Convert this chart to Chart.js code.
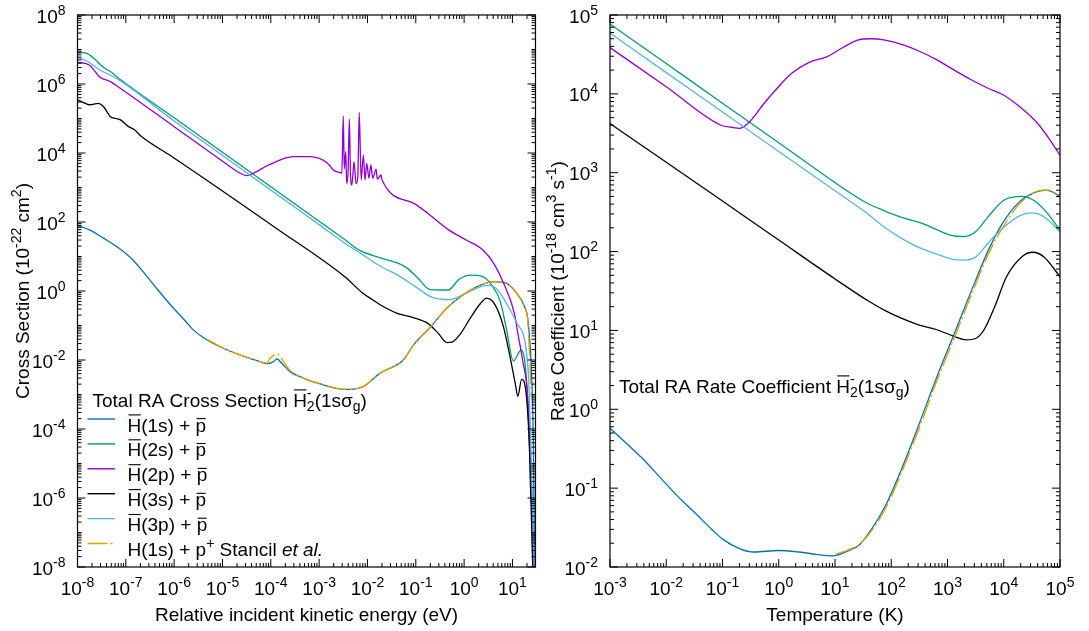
<!DOCTYPE html>
<html>
<head>
<meta charset="utf-8">
<script src="https://cdn.jsdelivr.net/npm/chart.js@4.4.1/dist/chart.umd.min.js"></script>
<style>
html, body { margin: 0; padding: 0; background: #fff; }
.panel { position: absolute; top: 0; height: 631px; }
#p1 { left: 0; width: 545px; }
#p2 { left: 545px; width: 544px; }
</style>
</head>
<body>
<div class="panel" id="p1"><canvas id="cross"></canvas></div>
<div class="panel" id="p2"><canvas id="rate"></canvas></div>
<script>
// ---- left panel: cross sections (10^-22 cm^2) vs energy (eV)
const cs1sE = [1e-8, 1.78e-8, 3.47e-8, 6.6e-8, 1.29e-7, 2.45e-7, 4.8e-7, 9.1e-7, 1.78e-6, 2.45e-6, 4.8e-6, 1.26e-5, 3.7e-5, 5.6e-5, 8.3e-5, 1.1e-4, 1.35e-4, 1.7e-4, 2.5e-4, 4.7e-4, 1.23e-3, 2.3e-3, 3.5e-3, 8.1e-3, 1.8e-2, 5.5e-2, 9.1e-2, 0.2, 0.44, 0.98, 2.1, 4.1, 7.6, 12.3, 17.8, 20.9, 24.5, 26.9, 28.8]
const cs1s  = [79, 59, 34, 19, 8.9, 3.2, 1.0, 0.35, 0.126, 0.076, 0.038, 0.0195, 0.0112, 0.0093, 0.0079, 0.0087, 0.0107, 0.0079, 0.0046, 0.003, 0.0019, 0.0015, 0.0014, 0.0017, 0.0041, 0.01, 0.028, 0.089, 0.32, 0.79, 1.45, 1.86, 1.66, 0.85, 0.35, 0.145, 0.0065, 7.6e-5, 1e-8]

const cs2sE = [1e-8, 1.51e-8, 2.29e-8, 3.47e-8, 4.8e-8, 7.2e-8, 1e-6, 1e-5, 1e-4, 1e-3, 3.5e-3, 6.6e-3, 1.78e-2, 4.4e-2, 6.6e-2, 0.107, 0.2, 0.47, 0.79, 1.35, 2.29, 3.72, 5.6, 7.4, 10.5, 15.1, 20, 27.5]
const cs2s  = [8.3e6, 7.8e6, 5.2e6, 3.0e6, 2.3e6, 1.45e6, 1.05e5, 1.05e4, 1050, 105, 30, 15.5, 9.3, 6.3, 4.6, 2.5, 1.1, 1.07, 2.2, 2.9, 2.7, 1.48, 0.5, 0.089, 0.0093, 0.0195, 0.0016, 1e-8]

const cs2pE = [1e-8, 1.78e-8, 2.88e-8, 4.8e-8, 7.8e-8, 1e-6, 1e-5, 2.45e-5, 3.16e-5, 4.4e-5, 9.1e-5, 2.9e-4, 6.6e-4, 1.51e-3, 1.97e-3, 2.71e-3,
  2.95e-3, 3.16e-3, 3.31e-3, 3.55e-3, 3.72e-3, 3.98e-3, 4.22e-3, 4.47e-3, 4.73e-3, 5.01e-3, 5.25e-3, 5.81e-3, 6.31e-3, 6.76e-3, 7.41e-3, 8.22e-3, 8.91e-3, 9.66e-3, 1.07e-2, 1.17e-2, 1.29e-2, 1.51e-2, 1.6e-2, 1.91e-2, 2.0e-2,
  9.1e-2, 0.48, 1.1, 2.45, 4.1, 6.6, 11.0, 12.9, 16.2, 20.9, 28.2]
const cs2p  = [4.3e6, 3.5e6, 1.6e6, 1.17e6, 7.4e5, 5.8e4, 5.8e3, 2.5e3, 2.2e3, 2.6e3, 4.5e3, 7.8e3, 7.8e3, 5.0e3, 3.2e3, 2.7e3,
  2.6e3, 1.17e5, 3.5e3, 1.1e4, 1.3e3, 3.2e3, 9.5e4, 2.0e3, 1.17e3, 2.5e3, 5.6e3, 1.3e3, 2.0e3, 1.48e5, 1.66e3, 8.7e3, 1.66e3, 5.0e3, 1.86e3, 4.5e3, 1.86e3, 3.4e3, 1.74e3, 2.3e3, 1.66e3,
  347, 59, 30, 15.5, 6.3, 1.66, 0.22, 0.06, 0.01, 6.9e-4, 1e-8]

const cs3sE = [1e-8, 1.29e-8, 1.78e-8, 2.69e-8, 3.47e-8, 4.8e-8, 6.2e-8, 7.8e-8, 1.1e-7, 1.51e-7, 2.14e-7, 9.1e-7, 1.29e-4, 3.5e-3, 7.8e-3, 1.29e-2, 1.82e-2, 4.0e-2, 8.9e-2, 0.178, 0.29, 0.44, 0.56, 0.83, 1.32, 2.14, 2.95, 4.4, 6.5, 8.9, 11.5, 12.9, 15.5, 19.1, 22.4, 26.3]
const cs3s  = [3.5e5, 2.95e5, 2.5e5, 2.75e5, 2.2e5, 1.12e5, 1.0e5, 9.1e4, 6.0e4, 4.7e4, 2.95e4, 7.8e3, 66, 2.5, 0.89, 0.55, 0.4, 0.23, 0.17, 0.115, 0.06, 0.032, 0.033, 0.056, 0.158, 0.42, 0.62, 0.39, 0.093, 0.0126, 0.002, 0.00089, 0.00275, 0.00112, 3.2e-5, 1e-8]

const cs3pE = [1e-8, 1.62e-8, 2.88e-8, 7.2e-8, 1e-6, 1e-5, 1e-4, 1e-3, 3.5e-3, 7.8e-3, 1.78e-2, 4.4e-2, 0.1, 0.22, 0.5, 0.95, 2.14, 3.16, 4.8, 7.8, 12.6, 20.9, 28.2]
const cs3p  = [5.9e6, 4.5e6, 2.6e6, 1.3e6, 8.5e4, 8.5e3, 840, 84, 23.5, 11.5, 5.4, 2.8, 1.32, 0.65, 0.56, 0.78, 1.32, 1.45, 1.12, 0.4, 0.112, 0.0063, 1e-8]

const csStancilE = [4.9e-6, 1.26e-5, 3.7e-5, 5.6e-5, 8.3e-5, 9.5e-5, 1.35e-4, 1.95e-4, 2.5e-4, 4.7e-4, 1.23e-3, 2.3e-3, 3.5e-3, 8.1e-3, 1.8e-2, 5.5e-2, 9.1e-2, 0.2, 0.44, 0.98, 2.1, 4.1, 7.6, 12.3, 17.8, 20.9, 24.5]
const csStancil  = [0.039, 0.0195, 0.0112, 0.0093, 0.0081, 0.011, 0.0148, 0.0079, 0.005, 0.003, 0.0019, 0.0015, 0.0014, 0.0017, 0.0041, 0.01, 0.028, 0.089, 0.32, 0.79, 1.45, 1.86, 1.66, 0.85, 0.35, 0.12, 0.0009]

// ---- right panel: rate coefficients (10^-18 cm^3 s^-1) vs temperature (K)
const rc1sT = [1e-3, 1.95e-3, 3.98e-3, 7.9e-3, 1.62e-2, 3.3e-2, 6.6e-2, 0.102, 0.204, 0.363, 0.98, 2.29, 4.57, 8.9, 19.1, 26.9, 43.7, 78, 158, 316, 646, 1320, 3020, 5370, 9550, 1.9e4, 3.9e4, 5.9e4, 1e5]
const rc1s  = [0.574, 0.37, 0.229, 0.135, 0.078, 0.048, 0.0295, 0.0224, 0.017, 0.0155, 0.0162, 0.0155, 0.0145, 0.0138, 0.0166, 0.019, 0.0295, 0.059, 0.186, 0.66, 2.57, 9.1, 39.8, 105, 229, 427, 575, 603, 501]

const rc2sT = [1e-3, 1e-2, 0.1, 1, 19, 38, 63, 100, 158, 316, 646, 1120, 2000, 3160, 5250, 1e4, 2.1e4, 3.55e4, 5.9e4, 1e5]
const rc2s  = [7.7e4, 2.42e4, 7.6e3, 2.4e3, 550, 407, 347, 302, 269, 234, 190, 162, 155, 178, 275, 447, 500, 437, 309, 186]

const rc2pT = [1e-3, 1e-2, 0.094, 0.145, 0.204, 0.316, 0.55, 1.02, 1.7, 3.47, 7.1, 14.1, 25.1, 43.7, 78, 158, 316, 646, 1320, 2630, 5370, 9550, 1.9e4, 3.9e4, 6.3e4, 1e5]
const rc2p  = [3.86e4, 1.23e4, 4.0e3, 3.77e3, 3.66e3, 4.57e3, 7.6e3, 1.26e4, 1.82e4, 2.51e4, 2.95e4, 3.9e4, 4.8e4, 5.0e4, 4.8e4, 4.2e4, 3.47e4, 2.7e4, 2.0e4, 1.51e4, 1.17e4, 9.8e3, 6.9e3, 4.3e3, 2.75e3, 1.66e3]

const rc3sT = [1e-3, 1e-2, 0.1, 1, 10, 40, 78, 158, 316, 646, 1260, 2140, 3160, 4470, 7080, 1.12e4, 2.24e4, 3.3e4, 5.25e4, 1e5]
const rc3s  = [4.2e3, 1.36e3, 437, 140, 45, 23.4, 17.8, 14.1, 11.7, 10.2, 8.5, 7.6, 7.9, 10.2, 20.9, 47.9, 89, 98, 85, 47.9]

const rc3pT = [1e-3, 1e-2, 0.1, 1, 10, 38, 78, 158, 316, 646, 1320, 2000, 3160, 5600, 1e4, 2e4, 3.16e4, 5.25e4, 1e5]
const rc3p  = [5.9e4, 1.86e4, 5.9e3, 1.86e3, 590, 302, 200, 145, 112, 93, 79, 78, 85, 135, 204, 288, 309, 275, 178]

const rcStancilT = [10.2, 19.1, 28.8, 78, 158, 316, 646, 1320, 3020, 5370, 1e4, 2.19e4, 5.1e4, 1e5]
const rcStancil  = [0.0145, 0.017, 0.02, 0.054, 0.168, 0.58, 2.3, 8.0, 35.5, 94, 212, 445, 603, 525]

const seriesColors = ['#0072b2', '#009e73', '#9400d3', '#000000', '#56b4e9', '#e69f00']

const FONT = '"Liberation Sans", Arial, Helvetica, sans-serif'
const HBAR = {t: 'H', o: 'cap'}
const PBAR = {t: 'p', o: 'x'}
const legendRows = [
  [HBAR, {t: '(1s) + '}, PBAR],
  [HBAR, {t: '(2s) + '}, PBAR],
  [HBAR, {t: '(2p) + '}, PBAR],
  [HBAR, {t: '(3s) + '}, PBAR],
  [HBAR, {t: '(3p) + '}, PBAR],
  [{t: 'H(1s) + p'}, {t: '+', up: 1}, {t: ' Stancil '}, {t: 'et al.', i: 1}]
]

function rich(ctx, parts, x, y, align, size) {
  size = size || 19
  const small = Math.round(size * 0.74)
  let w = 0
  const items = parts.map(p => {
    const it = Object.assign({}, p)
    if (p.stack) {
      ctx.font = small + 'px ' + FONT
      it.w = Math.max(ctx.measureText(p.stack[0]).width, ctx.measureText(p.stack[1]).width)
    } else {
      it.f = (p.i ? 'italic ' : '') + ((p.up || p.dn) ? small : size) + 'px ' + FONT
      ctx.font = it.f
      it.w = ctx.measureText(p.t).width
    }
    w += it.w
    return it
  })
  let cx = align === 'center' ? x - w / 2 : (align === 'right' ? x - w : x)
  ctx.textAlign = 'left'
  ctx.textBaseline = 'alphabetic'
  for (const it of items) {
    if (it.stack) {
      ctx.font = small + 'px ' + FONT
      ctx.fillText(it.stack[0], cx, y - size * 0.45)
      ctx.fillText(it.stack[1], cx, y + size * 0.25)
    } else {
      ctx.font = it.f
      const dy = it.up ? -size * 0.42 : (it.dn ? size * 0.25 : 0)
      ctx.fillText(it.t, cx, y + dy)
      if (it.o) {
        const oy = y - (it.o === 'cap' ? size * 0.716 + 3 : size * 0.52 + 3)
        ctx.beginPath()
        ctx.lineWidth = 1.1
        ctx.moveTo(cx + 1, oy)
        ctx.lineTo(cx + it.w - 0.5, oy)
        ctx.stroke()
      }
    }
    cx += it.w
  }
}

function decades(min, max) {
  const out = []
  for (let e = Math.floor(Math.log10(min) + 1e-9); e <= Math.ceil(Math.log10(max) - 1e-9); e++) out.push(e)
  return out
}

const framePlugin = {
  id: 'frame',
  afterDraw(chart, args, opts) {
    const {ctx, chartArea: a, scales: {x, y}} = chart
    ctx.save()
    ctx.strokeStyle = '#000'
    ctx.fillStyle = '#000'
    ctx.lineWidth = 1.2
    ctx.strokeRect(a.left, a.top, a.right - a.left, a.bottom - a.top)

    ctx.lineWidth = 1
    // x ticks, mirrored on top
    for (const e of decades(x.min, x.max)) {
      for (let m = 1; m <= 9; m++) {
        const v = m * Math.pow(10, e)
        if (v < x.min * 0.999 || v > x.max * 1.001) continue
        const px = x.getPixelForValue(v)
        const len = m === 1 ? 8 : 4
        ctx.beginPath()
        ctx.moveTo(px, a.bottom); ctx.lineTo(px, a.bottom - len)
        ctx.moveTo(px, a.top); ctx.lineTo(px, a.top + len)
        ctx.stroke()
        if (m === 1) rich(ctx, [{t: '10'}, {t: String(e), up: 1}], px, a.bottom + 28, 'center')
      }
    }
    // y ticks, mirrored on the right
    for (const e of decades(y.min, y.max)) {
      for (let m = 1; m <= 9; m++) {
        const v = m * Math.pow(10, e)
        if (v < y.min * 0.999 || v > y.max * 1.001) continue
        const py = y.getPixelForValue(v)
        const major = m === 1 && e % opts.yStep === 0
        const len = major ? 8 : 4
        ctx.beginPath()
        ctx.moveTo(a.left, py); ctx.lineTo(a.left + len, py)
        ctx.moveTo(a.right, py); ctx.lineTo(a.right - len, py)
        ctx.stroke()
        if (major) rich(ctx, [{t: '10'}, {t: String(e), up: 1}], a.left - 12, py + 7.5, 'right')
      }
    }
    // axis titles
    rich(ctx, [{t: opts.xTitle}], (a.left + a.right) / 2, a.bottom + 54, 'center')
    ctx.save()
    ctx.translate(opts.yTitleX, (a.top + a.bottom) / 2)
    ctx.rotate(-Math.PI / 2)
    rich(ctx, opts.yTitle, 0, 0, 'center')
    ctx.restore()
    // key
    rich(ctx, opts.keyTitle, a.left + opts.keyX, opts.keyY, 'left')
    if (opts.keyRows) {
      chart.data.datasets.forEach((ds, i) => {
        const ly = opts.keyY + 12.5 + i * 24.9
        ctx.save()
        ctx.strokeStyle = ds.borderColor
        ctx.lineWidth = 1.4
        ctx.setLineDash(ds.borderDash || [])
        ctx.beginPath()
        ctx.moveTo(a.left + 10, ly); ctx.lineTo(a.left + 37.5, ly)
        ctx.stroke()
        ctx.restore()
        rich(ctx, legendRows[i], a.left + 50, ly + 12.5, 'left')
      })
    }
    ctx.restore()
  }
}

function buildSets(xs, ys, labels) {
  return xs.map((xv, i) => ({
    label: labels[i],
    data: xv.map((v, j) => ({x: v, y: ys[i][j]})),
    borderColor: seriesColors[i],
    borderWidth: 1.3,
    borderDash: i === 5 ? [20, 3, 2, 3] : [],
    pointRadius: 0,
    cubicInterpolationMode: 'monotone',
    fill: false,
    order: 5 - i
  }))
}

const seriesNames = ['H(1s)+p', 'H(2s)+p', 'H(2p)+p', 'H(3s)+p', 'H(3p)+p', 'Stancil et al.']

function makeChart(id, sets, xr, yr, pad, frameOpts) {
  return new Chart(document.getElementById(id), {
    type: 'line',
    data: {datasets: sets},
    options: {
      responsive: true,
      maintainAspectRatio: false,
      animation: false,
      layout: {padding: pad},
      plugins: {legend: {display: false}, tooltip: {enabled: false}, frame: frameOpts},
      scales: {
        x: {type: 'logarithmic', min: xr[0], max: xr[1], display: false},
        y: {type: 'logarithmic', min: yr[0], max: yr[1], display: false}
      }
    },
    plugins: [framePlugin]
  })
}

makeChart('cross',
  buildSets([cs1sE, cs2sE, cs2pE, cs3sE, cs3pE, csStancilE], [cs1s, cs2s, cs2p, cs3s, cs3p, csStancil], seriesNames),
  [1e-8, 30], [1e-8, 1e8],
  {left: 77.5, right: 9.5, top: 15, bottom: 64},
  {
    yStep: 2,
    xTitle: 'Relative incident kinetic energy (eV)',
    yTitle: [{t: 'Cross Section (10'}, {t: '-22', up: 1}, {t: ' cm'}, {t: '2', up: 1}, {t: ')'}],
    yTitleX: 29,
    keyTitle: [{t: 'Total RA Cross Section '}, HBAR, {stack: ['-', '2']}, {t: '(1s\u03c3'}, {t: 'g', dn: 1}, {t: ')'}],
    keyX: 15, keyY: 406.5, keyRows: true
  })

makeChart('rate',
  buildSets([rc1sT, rc2sT, rc2pT, rc3sT, rc3pT, rcStancilT], [rc1s, rc2s, rc2p, rc3s, rc3p, rcStancil], seriesNames),
  [1e-3, 1e5], [1e-2, 1e5],
  {left: 65, right: 29, top: 15, bottom: 64},
  {
    yStep: 1,
    xTitle: 'Temperature (K)',
    yTitle: [{t: 'Rate Coefficient (10'}, {t: '-18', up: 1}, {t: ' cm'}, {t: '3', up: 1}, {t: ' s'}, {t: '-1', up: 1}, {t: ')'}],
    yTitleX: 19,
    keyTitle: [{t: 'Total RA Rate Coefficient '}, HBAR, {stack: ['-', '2']}, {t: '(1s\u03c3'}, {t: 'g', dn: 1}, {t: ')'}],
    keyX: 9, keyY: 392.5, keyRows: false
  })
</script>
</body>
</html>
